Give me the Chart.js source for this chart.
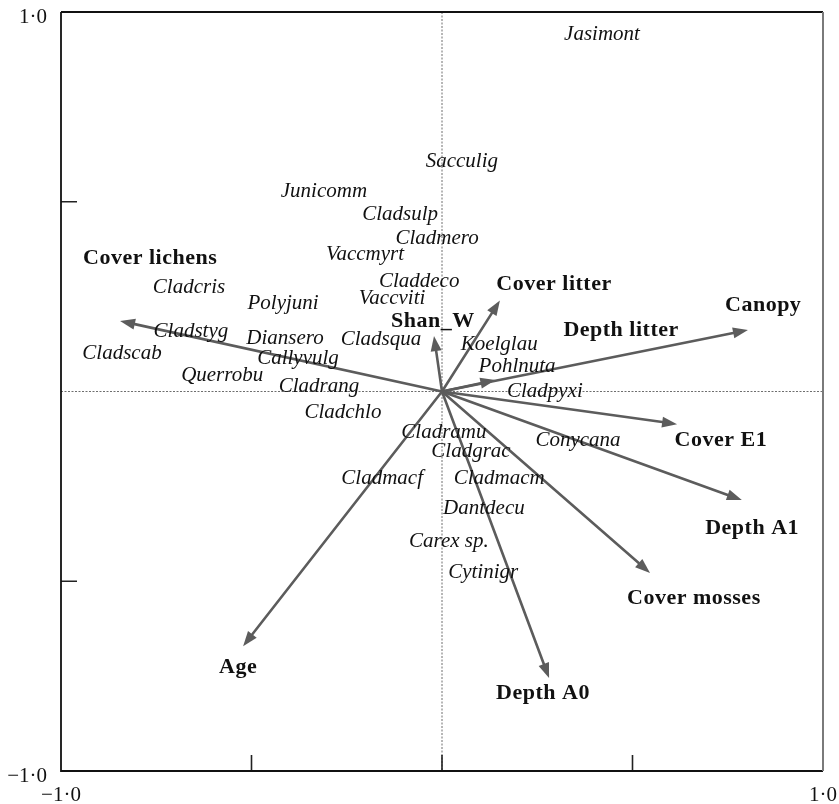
<!DOCTYPE html>
<html>
<head>
<meta charset="utf-8">
<script src="https://cdn.jsdelivr.net/npm/chart.js@4/dist/chart.umd.min.js"></script>
<style>
  html, body { margin: 0; padding: 0; background: #fff; }
  canvas { display: block; }
</style>
</head>
<body>
<canvas id="plot" width="839" height="804"></canvas>
<script>
// Environmental variables: arrow tips (axis 1, axis 2) and where each name sits
const varNames = ['Cover lichens', 'Shan_W', 'Cover litter', 'Depth litter', 'Canopy',
                  'Cover E1', 'Depth A1', 'Cover mosses', 'Depth A0', 'Age'];
const varX = [-0.845, -0.021, 0.152, 0.140, 0.803, 0.617, 0.787, 0.546, 0.281, -0.522];
const varY = [0.186, 0.146, 0.240, 0.030, 0.162, -0.086, -0.286, -0.478, -0.755, -0.671];
const varLabelX = [-0.766, -0.024, 0.294, 0.470, 0.843, 0.732, 0.814, 0.661, 0.265, -0.535];
const varLabelY = [0.352, 0.186, 0.283, 0.162, 0.228, -0.128, -0.360, -0.544, -0.794, -0.726];

// Species scores (axis 1, axis 2)
const speciesNames = ['Jasimont', 'Sacculig', 'Junicomm', 'Cladsulp', 'Cladmero', 'Vaccmyrt',
  'Claddeco', 'Vaccviti', 'Polyjuni', 'Cladcris', 'Cladstyg', 'Diansero', 'Cladsqua',
  'Callyvulg', 'Cladscab', 'Querrobu', 'Koelglau', 'Pohlnuta', 'Cladrang', 'Cladpyxi',
  'Cladchlo', 'Cladramu', 'Conycana', 'Cladgrac', 'Cladmacm', 'Cladmacf', 'Dantdecu',
  'Carex sp.', 'Cytinigr'];
const speciesX = [0.420, 0.052, -0.310, -0.110, -0.013, -0.202, -0.060, -0.131, -0.417,
  -0.664, -0.659, -0.412, -0.160, -0.378, -0.840, -0.577, 0.150, 0.197, -0.323, 0.270,
  -0.260, 0.005, 0.357, 0.076, 0.150, -0.157, 0.110, 0.018, 0.108];
const speciesY = [0.942, 0.607, 0.527, 0.466, 0.402, 0.360, 0.289, 0.244, 0.231,
  0.275, 0.159, 0.141, 0.138, 0.088, 0.101, 0.041, 0.125, 0.067, 0.014, 0.001,
  -0.054, -0.107, -0.130, -0.159, -0.228, -0.228, -0.307, -0.394, -0.476];

// Axis ticks: only the ends carry a label
const tickValues = [-1, -0.5, 0, 0.5, 1];
const labelFor = v => (v === -1 ? '\u22121\u00b70' : v === 1 ? '1\u00b70' : '');

const SERIF = '"Liberation Serif", "Times New Roman", serif';

const biplot = {
  id: 'biplot',
  beforeDatasetsDraw(chart) {
    const { ctx, chartArea: a, scales: { x, y } } = chart;
    const x0 = x.getPixelForValue(0), y0 = y.getPixelForValue(0);
    ctx.save();
    // dotted zero lines
    ctx.strokeStyle = '#6e6e6e';
    ctx.lineWidth = 1;
    ctx.setLineDash([2, 1.5]);
    ctx.beginPath();
    ctx.moveTo(a.left, y0); ctx.lineTo(a.right, y0);
    ctx.moveTo(x0, a.top); ctx.lineTo(x0, a.bottom);
    ctx.stroke();
    ctx.setLineDash([]);
    // inward tick marks
    ctx.strokeStyle = '#222';
    ctx.lineWidth = 1.6;
    ctx.beginPath();
    tickValues.filter(v => Math.abs(v) === 0.5).forEach(v => {
      const py = y.getPixelForValue(v);
      ctx.moveTo(a.left, py); ctx.lineTo(a.left + 16, py);
    });
    tickValues.filter(v => Math.abs(v) !== 1).forEach(v => {
      const px = x.getPixelForValue(v);
      ctx.moveTo(px, a.bottom); ctx.lineTo(px, a.bottom - 16);
    });
    ctx.stroke();
    // frame
    ctx.lineWidth = 1.8;
    ctx.strokeStyle = '#111';
    ctx.beginPath();
    ctx.moveTo(a.left, a.top); ctx.lineTo(a.right, a.top);
    ctx.moveTo(a.left, a.top); ctx.lineTo(a.left, a.bottom);
    ctx.lineTo(a.right, a.bottom);
    ctx.stroke();
    ctx.strokeStyle = '#7a7a7a';
    ctx.lineWidth = 2;
    ctx.beginPath();
    ctx.moveTo(a.right, a.top); ctx.lineTo(a.right, a.bottom);
    ctx.stroke();
    ctx.restore();
  },
  afterDatasetsDraw(chart) {
    const { ctx, scales: { x, y } } = chart;
    const x0 = x.getPixelForValue(0), y0 = y.getPixelForValue(0);
    ctx.save();
    // arrows from the origin to each variable
    ctx.strokeStyle = '#5c5c5c';
    ctx.fillStyle = '#5c5c5c';
    ctx.lineWidth = 2.6;
    ctx.lineCap = 'round';
    chart.getDatasetMeta(1).data.forEach(pt => {
      const tx = pt.x, ty = pt.y;
      const ang = Math.atan2(ty - y0, tx - x0);
      const head = 15, half = 5.5;
      const bx = tx - head * Math.cos(ang), by = ty - head * Math.sin(ang);
      ctx.beginPath();
      ctx.moveTo(x0, y0); ctx.lineTo(bx, by);
      ctx.stroke();
      ctx.beginPath();
      ctx.moveTo(tx, ty);
      ctx.lineTo(bx + half * Math.sin(ang), by - half * Math.cos(ang));
      ctx.lineTo(bx - half * Math.sin(ang), by + half * Math.cos(ang));
      ctx.closePath();
      ctx.fill();
    });
    // species names
    ctx.fillStyle = '#111';
    ctx.textAlign = 'center';
    ctx.textBaseline = 'middle';
    ctx.font = 'italic 21px ' + SERIF;
    chart.getDatasetMeta(0).data.forEach((pt, i) => {
      ctx.fillText(speciesNames[i], pt.x, pt.y);
    });
    // variable names
    ctx.font = 'bold 22px ' + SERIF;
    try { ctx.letterSpacing = '0.5px'; } catch (e) {}
    varNames.forEach((n, i) => {
      ctx.fillText(n, x.getPixelForValue(varLabelX[i]), y.getPixelForValue(varLabelY[i]));
    });
    ctx.restore();
  }
};

new Chart(document.getElementById('plot'), {
  type: 'scatter',
  data: {
    datasets: [
      { label: 'Species', data: speciesX.map((v, i) => ({ x: v, y: speciesY[i] })), pointRadius: 0 },
      { label: 'Variables', data: varX.map((v, i) => ({ x: v, y: varY[i] })), pointRadius: 0 }
    ]
  },
  options: {
    responsive: false,
    animation: false,
    events: [],
    layout: { padding: { top: 12, right: 16, left: 0, bottom: 0 } },
    plugins: { legend: { display: false }, tooltip: { enabled: false } },
    scales: {
      x: {
        type: 'linear', min: -1, max: 1,
        afterBuildTicks: s => { s.ticks = tickValues.map(v => ({ value: v })); },
        ticks: { callback: labelFor, autoSkip: false, maxRotation: 0, padding: 12,
                 color: '#111', font: { family: SERIF, size: 21 } },
        grid: { display: false, drawTicks: false },
        border: { display: false },
        afterFit: s => { s.height = 33; s.paddingLeft = 0; s.paddingRight = 0; }
      },
      y: {
        type: 'linear', min: -1, max: 1,
        afterBuildTicks: s => { s.ticks = tickValues.map(v => ({ value: v })); },
        ticks: { callback: labelFor, autoSkip: false, padding: 14, labelOffset: 5,
                 color: '#111', font: { family: SERIF, size: 21 } },
        grid: { display: false, drawTicks: false },
        border: { display: false },
        afterFit: s => { s.width = 61; s.paddingTop = 0; s.paddingBottom = 0; }
      }
    }
  },
  plugins: [biplot]
});
</script>
</body>
</html>
